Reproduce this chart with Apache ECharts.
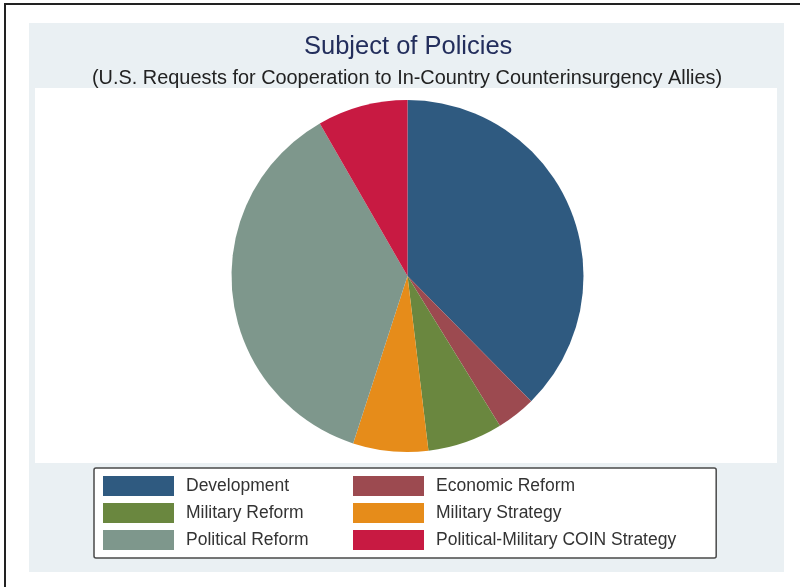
<!DOCTYPE html>
<html>
<head>
<meta charset="utf-8">
<script src="https://cdn.jsdelivr.net/npm/echarts@6/dist/echarts.min.js"></script>
<style>
  html, body { margin: 0; padding: 0; background: #ffffff; }
  #chart { width: 800px; height: 587px; }
</style>
</head>
<body>
<div id="chart"></div>
<script>
// ---- Data (share of requests, %) ----
const categories = [
  'Development',
  'Economic Reform',
  'Military Reform',
  'Military Strategy',
  'Political Reform',
  'Political-Military COIN Strategy'
];
const shares = [37.6, 3.6, 6.9, 6.9, 36.7, 8.3];
const sliceColors = ['#2f5a80', '#9c4a50', '#6a873f', '#e68c1a', '#7e978c', '#c81a42'];

const titleText = 'Subject of Policies';
const subtitleText = '(U.S. Requests for Cooperation to In-Country Counterinsurgency Allies)';

const chart = echarts.init(document.getElementById('chart'), null, { renderer: 'canvas' });

const pieData = categories.map((name, i) => ({
  name: name,
  value: shares[i],
  itemStyle: { color: sliceColors[i] }
}));

chart.setOption({
  animation: false,
  backgroundColor: '#ffffff',
  graphic: [
    { type: 'rect', z: -10, shape: { x: 5, y: 4, width: 900, height: 700 },
      style: { fill: '#ffffff', stroke: '#222222', lineWidth: 2 } },
    { type: 'rect', z: -9, shape: { x: 29, y: 23, width: 755, height: 549 },
      style: { fill: '#eaf0f3' } },
    { type: 'rect', z: -8, shape: { x: 35, y: 88, width: 742, height: 375 },
      style: { fill: '#ffffff' } }
  ],
  title: [
    {
      text: titleText,
      left: 304,
      top: 34,
      padding: 0,
      textStyle: { fontFamily: 'Liberation Sans', fontSize: 25.5, fontWeight: 'normal', color: '#232e5c', lineHeight: 25 }
    },
    {
      text: subtitleText,
      left: 92,
      top: 69,
      padding: 0,
      textStyle: { fontFamily: 'Liberation Sans', fontSize: 19.9, fontWeight: 'normal', color: '#222222', lineHeight: 20 }
    }
  ],
  legend: {
    data: categories,
    orient: 'horizontal',
    left: 94,
    top: 468,
    width: 600,
    icon: 'rect',
    itemWidth: 71,
    itemHeight: 20,
    itemGap: 7,
    padding: [8, 40, 8, 9],
    backgroundColor: '#ffffff',
    borderColor: '#4a4a4a',
    borderWidth: 1.5,
    borderRadius: 2,
    selectedMode: false,
    textStyle: {
      fontFamily: 'Liberation Sans',
      fontSize: 17.5,
      color: '#333333',
      width: 160,
      lineHeight: 20,
      padding: [0, 0, 0, 7]
    }
  },
  series: [
    {
      type: 'pie',
      center: [407.5, 276],
      radius: 176,
      startAngle: 90,
      clockwise: true,
      avoidLabelOverlap: false,
      label: { show: false },
      labelLine: { show: false },
      emphasis: { disabled: true },
      itemStyle: { borderWidth: 0 },
      data: pieData
    }
  ]
});
</script>
</body>
</html>
